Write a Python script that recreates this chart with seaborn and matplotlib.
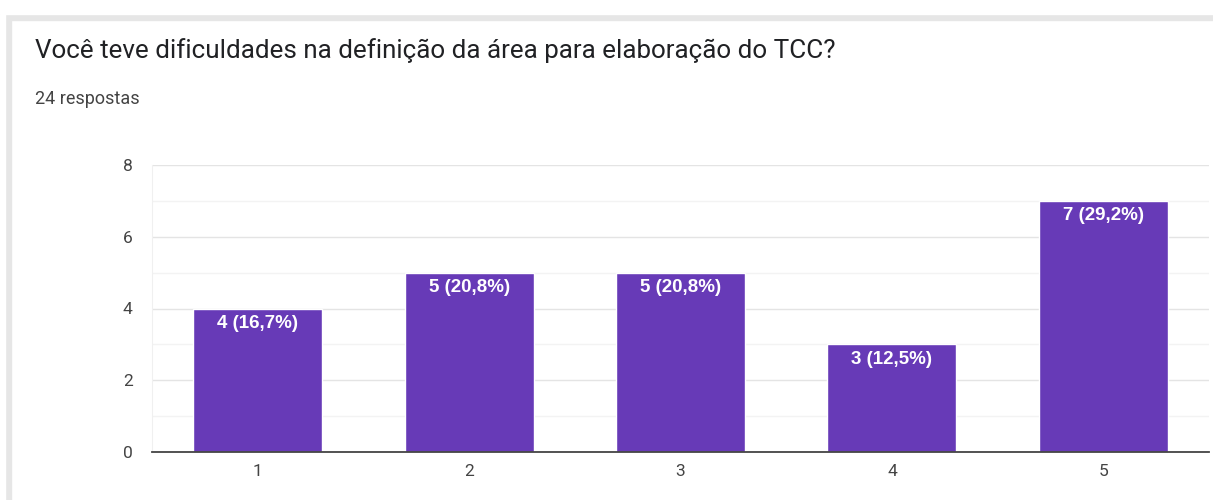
import matplotlib.pyplot as plt
import seaborn as sns
import pandas as pd
from matplotlib.patches import Rectangle
from matplotlib.ticker import MultipleLocator

categorias = ["1", "2", "3", "4", "5"]
respostas = [4, 5, 5, 3, 7]
rotulos = ["4 (16,7%)", "5 (20,8%)", "5 (20,8%)", "3 (12,5%)", "7 (29,2%)"]
titulo = "Você teve dificuldades na definição da área para elaboração do TCC?"
subtitulo = "24 respostas"

sns.set_style("white")
plt.rcParams['font.family'] = ['Roboto', 'DejaVu Sans']

df = pd.DataFrame({"nota": categorias, "qtd": respostas})

W, H = 1213, 500
fig = plt.figure(figsize=(W / 100, H / 100), dpi=100, facecolor="white")

# moldura cinza do cartão
fig.patches.append(Rectangle((0, 0), 11 / W, 486 / H, transform=fig.transFigure,
                             color="#e6e6e6", zorder=0))
fig.patches.append(Rectangle((5 / W, 480 / H), 1 - 5 / W, 6 / H, transform=fig.transFigure,
                             color="#e6e6e6", zorder=0))
fig.patches.append(Rectangle((0, 486 / H), 1, 14 / H, transform=fig.transFigure,
                             color="white", zorder=0))
fig.patches.append(Rectangle((0, 0), 5 / W, 486 / H, transform=fig.transFigure,
                             color="white", zorder=0))

ax = fig.add_axes([152 / W, (H - 452) / H, (1209 - 152) / W, (452 - 165) / H])
sns.barplot(data=df, x="nota", y="qtd", color="#673ab7", width=0.61,
            saturation=1, ax=ax, zorder=3)

ax.set_ylim(0, 8)
ax.set_xlim(-0.5, 4.5)
ax.yaxis.set_major_locator(MultipleLocator(2))
ax.yaxis.set_minor_locator(MultipleLocator(1))
ax.grid(axis="y", which="major", color="#e4e4e4", linewidth=1, zorder=0)
ax.grid(axis="y", which="minor", color="#f3f3f3", linewidth=1, zorder=0)
ax.set_axisbelow(True)

for s in ["top", "right"]:
    ax.spines[s].set_visible(False)
ax.spines["left"].set_color("#f0f0f0")
ax.spines["bottom"].set_color("#444444")
ax.spines["bottom"].set_linewidth(1.3)
ax.spines["bottom"].set_zorder(4)

ax.tick_params(axis="both", length=0, labelsize=12.5, labelcolor="#444444")
ax.tick_params(axis="y", pad=14)
ax.tick_params(axis="x", pad=9)
ax.set_xlabel("")
ax.set_ylabel("")

for i, (v, r) in enumerate(zip(respostas, rotulos)):
    ax.annotate(r, (i, v), xytext=(0, -4.5), textcoords="offset points",
                ha="center", va="top", color="white", fontsize=13.5,
                fontweight="bold", family=["Liberation Sans", "DejaVu Sans"],
                zorder=5)

fig.text(35 / W, 1 - 51 / H, titulo, fontsize=18.7, color="#202124", va="center")
fig.text(35 / W, 1 - 99 / H, subtitulo, fontsize=13, color="#444444", va="center")

fig.savefig("out.png", dpi=100)
